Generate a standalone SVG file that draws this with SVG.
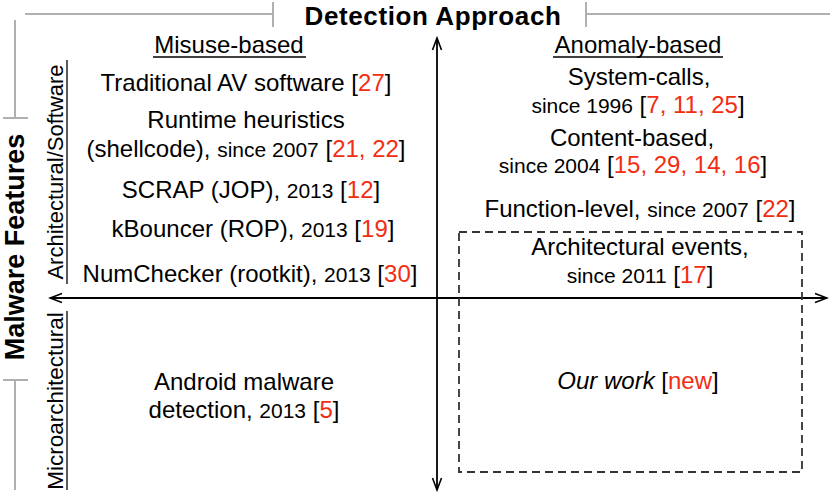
<svg xmlns="http://www.w3.org/2000/svg" width="830" height="495" viewBox="0 0 830 495">
<style>
text{font-family:"Liberation Sans",Arial,Helvetica,sans-serif;fill:#000}
.m{font-size:24px}
.s{font-size:21px}
.r{fill:#f22d12}
.b{font-weight:bold}
.g{stroke:#b0b0b0;stroke-width:2;fill:none}
.ax{stroke:#000;stroke-width:1.8;fill:none}
.ul{stroke:#000;stroke-width:1.3}
</style>
<defs>
<marker id="ah" markerUnits="userSpaceOnUse" markerWidth="16" markerHeight="12" viewBox="-14 -6 16 12" refX="0" refY="0" orient="auto-start-reverse">
<path d="M-12,-4.5 L0,0 L-12,4.5" fill="none" stroke="#000" stroke-width="1.6"/>
</marker>
</defs>
<g id="brackets">
<path class="g" d="M25,14 H273 M273,2 V27 M586,2 V27 M586,14 H830"/>
<path class="g" d="M15,20 V118 M3,118 H28 M3,380 H28 M15,380 V490"/>
</g>
<g id="title"><text class="b" x="433" y="25" text-anchor="middle" font-size="26" letter-spacing="0.6">Detection Approach</text></g>
<g id="features-label"><text class="b" transform="translate(24,247) rotate(-90)" text-anchor="middle" font-size="27">Malware Features</text></g>
<g id="arch-label">
<text transform="translate(63,172) rotate(-90)" text-anchor="middle" font-size="22">Architectural/Software</text>
<line class="ul" x1="67" y1="60" x2="67" y2="284"/>
</g>
<g id="micro-label">
<text transform="translate(63,401) rotate(-90)" text-anchor="middle" font-size="22.5">Microarchitectural</text>
<line class="ul" x1="67" y1="311" x2="67" y2="490"/>
</g>
<g id="misuse-heading">
<text class="m" x="229" y="53" text-anchor="middle">Misuse-based</text>
<line class="ul" x1="153" y1="57" x2="306" y2="57"/>
</g>
<g id="anomaly-heading">
<text class="m" x="638" y="53" text-anchor="middle">Anomaly-based</text>
<line class="ul" x1="553" y1="57" x2="723" y2="57"/>
</g>
<g id="connectors">
<line class="ax" x1="50" y1="298" x2="827" y2="298" marker-start="url(#ah)" marker-end="url(#ah)"/>
<line class="ax" x1="437" y1="38" x2="437" y2="490" marker-start="url(#ah)" marker-end="url(#ah)"/>
</g>
<g id="our-work-box">
<rect x="459" y="232" width="343" height="240" fill="none" stroke="#333" stroke-width="1.8" stroke-dasharray="8,5"/>
</g>
<g id="traditional-av"><text class="m" x="246" y="91" text-anchor="middle">Traditional AV software [<tspan class="r">27</tspan>]</text></g>
<g id="runtime-heuristics">
<text class="m" x="246" y="128" text-anchor="middle">Runtime heuristics</text>
<text class="m" x="246" y="157" text-anchor="middle">(shellcode), <tspan class="s">since 2007</tspan> [<tspan class="r">21, 22</tspan>]</text>
</g>
<g id="scrap"><text class="m" x="251" y="198" text-anchor="middle">SCRAP (JOP), <tspan class="s">2013</tspan> [<tspan class="r">12</tspan>]</text></g>
<g id="kbouncer"><text class="m" x="253" y="237" text-anchor="middle">kBouncer (ROP), <tspan class="s">2013</tspan> [<tspan class="r">19</tspan>]</text></g>
<g id="numchecker"><text class="m" x="250" y="282" text-anchor="middle">NumChecker (rootkit), <tspan class="s">2013</tspan> [<tspan class="r">30</tspan>]</text></g>
<g id="system-calls">
<text class="m" x="639" y="85" text-anchor="middle">System-calls,</text>
<text class="m" x="638" y="113" text-anchor="middle"><tspan class="s">since 1996</tspan> [<tspan class="r">7, 11, 25</tspan>]</text>
</g>
<g id="content-based">
<text class="m" x="632" y="146" text-anchor="middle">Content-based,</text>
<text class="m" x="633" y="173" text-anchor="middle"><tspan class="s">since 2004</tspan> [<tspan class="r">15, 29, 14, 16</tspan>]</text>
</g>
<g id="function-level"><text class="m" x="640" y="217" text-anchor="middle">Function-level, <tspan class="s">since 2007</tspan> [<tspan class="r">22</tspan>]</text></g>
<g id="architectural-events">
<text class="m" x="640" y="255" text-anchor="middle">Architectural events,</text>
<text class="m" x="640" y="283" text-anchor="middle"><tspan class="s">since 2011</tspan> [<tspan class="r">17</tspan>]</text>
</g>
<g id="android">
<text class="m" x="244" y="390" text-anchor="middle">Android malware</text>
<text class="m" x="244" y="418" text-anchor="middle">detection, <tspan class="s">2013</tspan> [<tspan class="r">5</tspan>]</text>
</g>
<g id="our-work"><text class="m" x="638" y="389" text-anchor="middle"><tspan font-style="italic">Our work</tspan> [<tspan class="r">new</tspan>]</text></g>
</svg>
